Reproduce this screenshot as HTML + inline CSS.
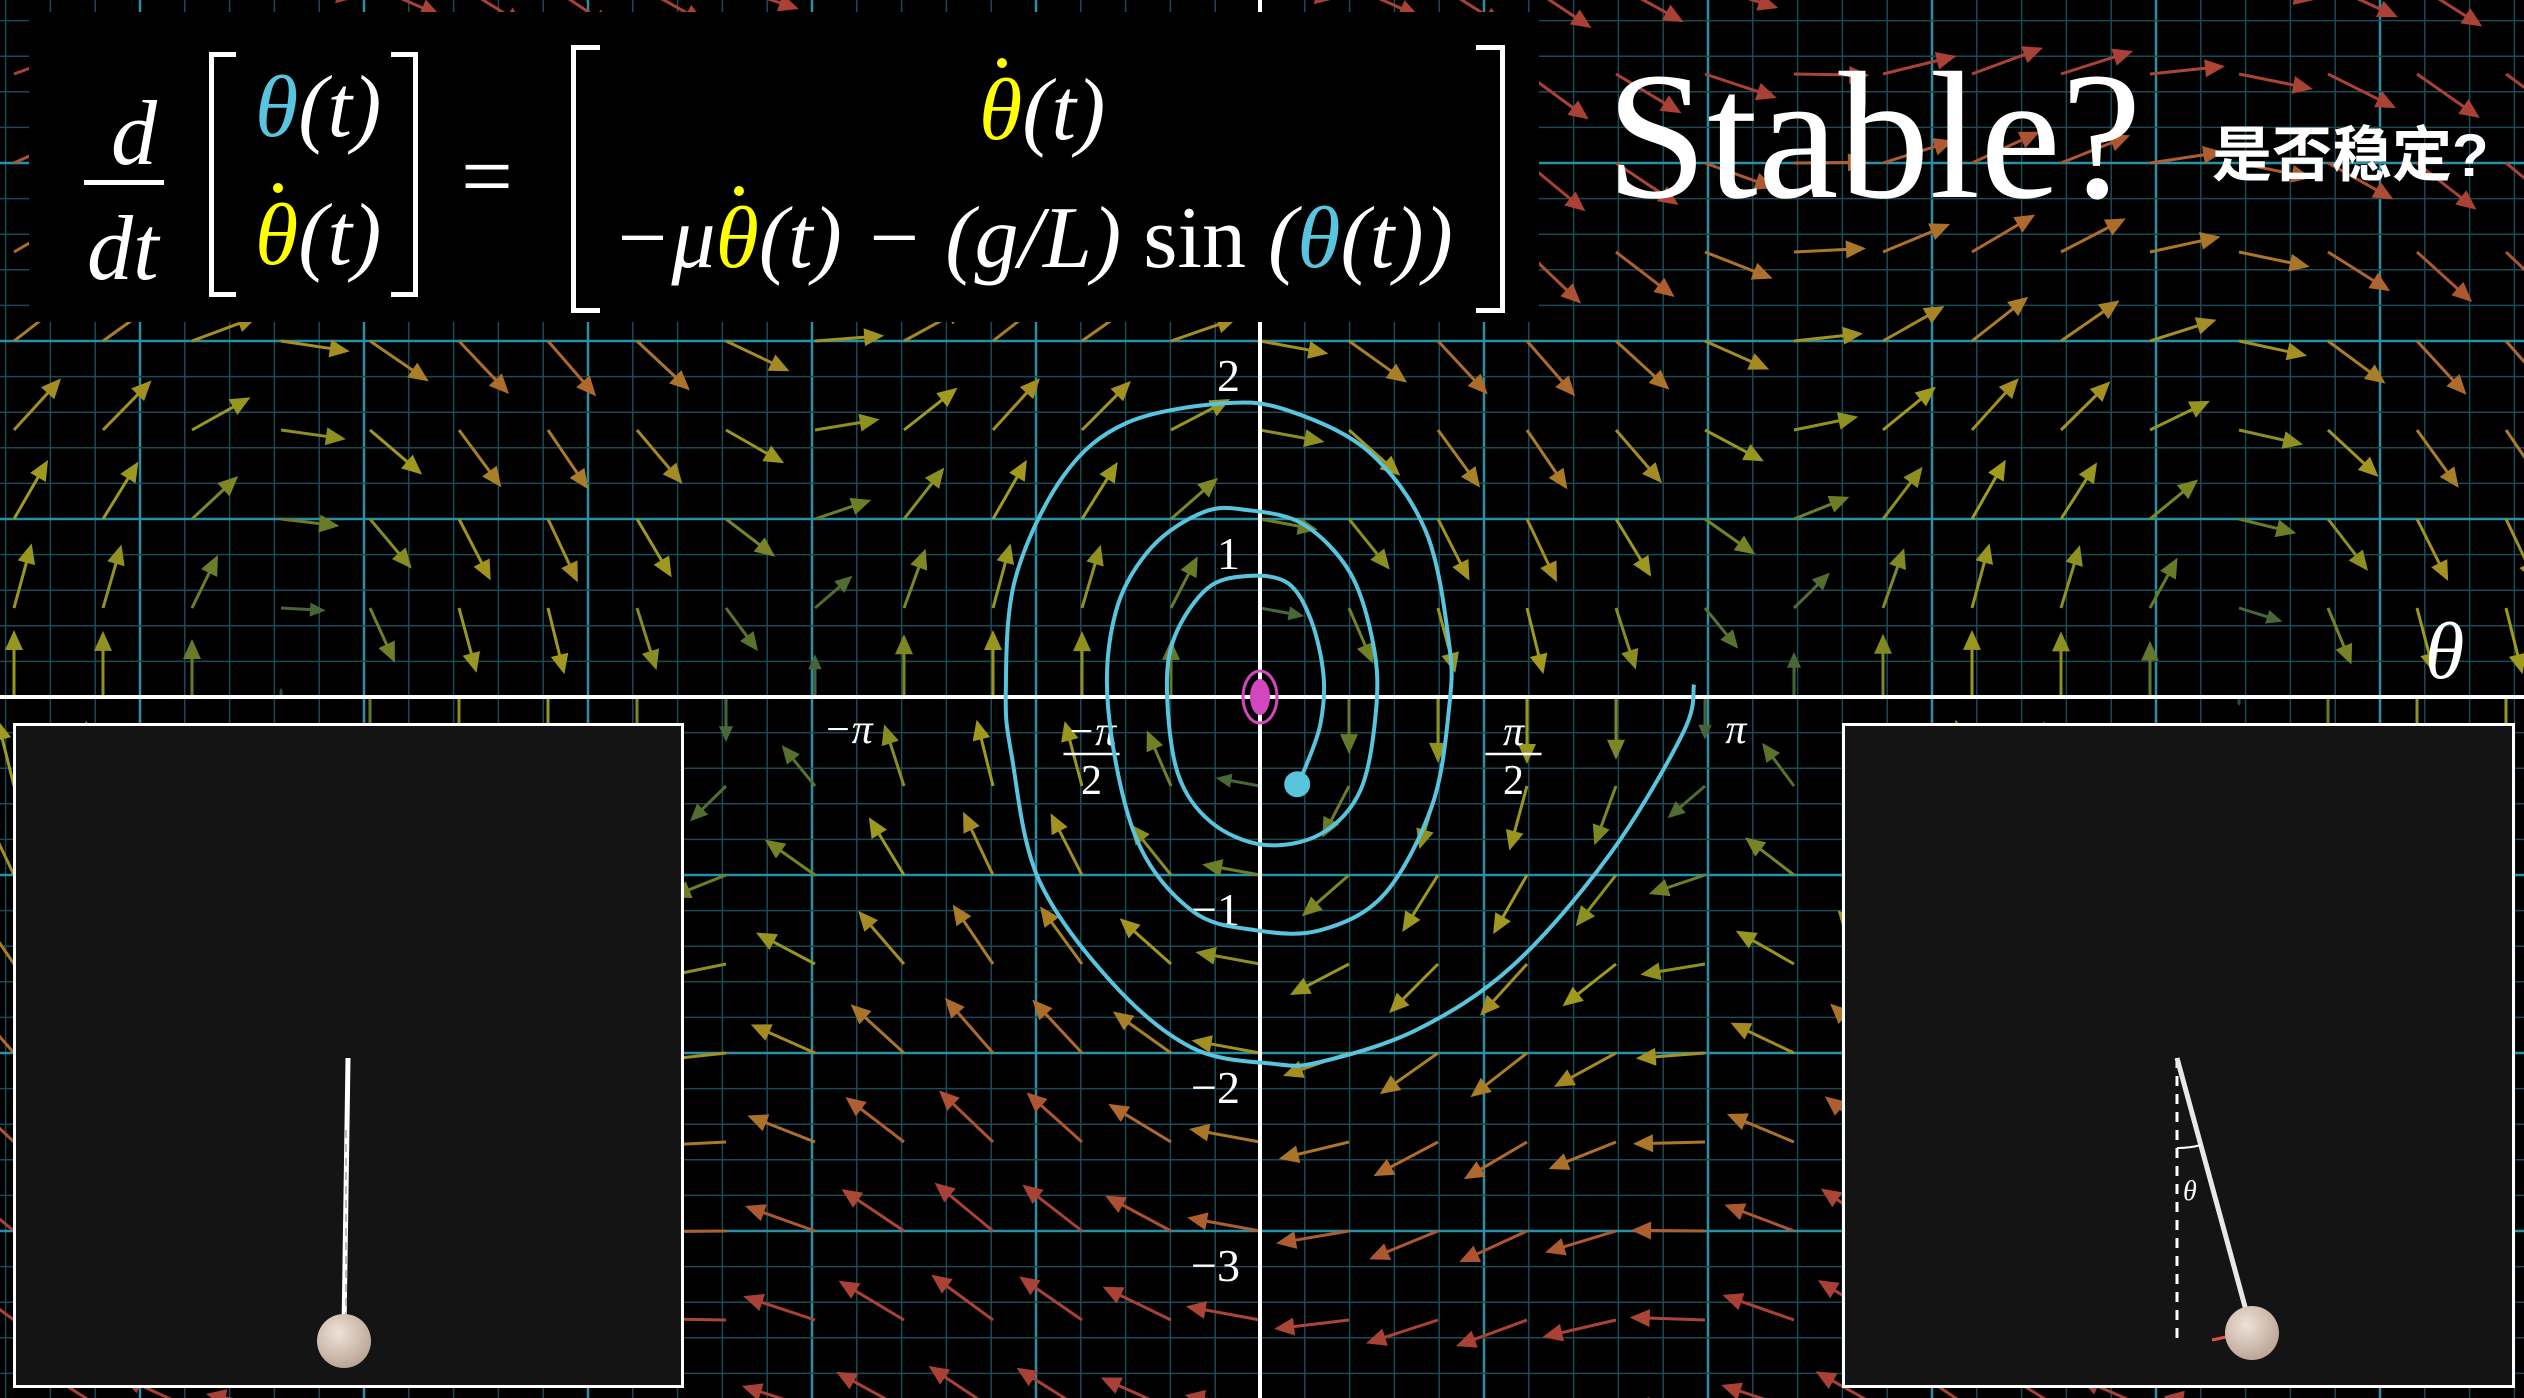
<!DOCTYPE html>
<html><head><meta charset="utf-8"><style>
html,body{margin:0;padding:0;background:#000;}
#root{position:relative;width:2524px;height:1398px;overflow:hidden;background:#000;font-family:"Liberation Serif","Noto Serif CJK SC",serif;color:#fff;}
svg{position:absolute;left:0;top:0;}
.m{position:absolute;font-family:"Liberation Serif",serif;font-style:italic;color:#fff;white-space:nowrap;line-height:1;}
.br{position:absolute;border:5px solid #fff;}
.dd{position:relative;color:#ff0;}
.dd::after{content:'';position:absolute;left:42%;top:-4px;width:10px;height:10px;border-radius:50%;background:#ff0;}
</style></head><body>
<div id="root">
<svg id="plot" width="2524" height="1398"></svg>

<div style="position:absolute;left:29px;top:12px;width:1510px;height:310px;background:#000;">
  <div class="m" style="left:82px;top:75px;font-size:92px;">d</div>
  <div style="position:absolute;left:55px;top:168px;width:80px;height:5px;background:#fff;"></div>
  <div class="m" style="left:58px;top:190px;font-size:92px;">dt</div>
  <div class="br" style="left:180px;top:40px;width:22px;height:235px;border-right:none;"></div>
  <div class="br" style="left:362px;top:40px;width:22px;height:235px;border-left:none;"></div>
  <div class="m" style="left:226px;top:52px;font-size:88px;"><span style="color:#58c4dd">θ</span>(t)</div>
  <div class="m" style="left:226px;top:180px;font-size:88px;"><span class="dd">θ</span>(t)</div>
  <div class="m" style="left:432px;top:118px;font-size:92px;font-style:normal;">=</div>
  <div class="br" style="left:542px;top:33px;width:24px;height:258px;border-right:none;"></div>
  <div class="br" style="left:1447px;top:33px;width:24px;height:258px;border-left:none;"></div>
  <div class="m" style="left:950px;top:55px;font-size:88px;"><span class="dd">θ</span>(t)</div>
  <div class="m" style="left:583px;top:183px;font-size:88px;">−μ<span class="dd">θ</span>(t) − (g/L) <span style="font-style:normal">sin</span> (<span style="color:#58c4dd">θ</span>(t))</div>
</div>

<div style="position:absolute;left:1606px;top:46px;font-size:182px;line-height:1;font-family:'Liberation Serif',serif;color:#fff;">Stable?</div>
<div style="position:absolute;left:2212px;top:126px;font-size:60px;line-height:1;font-weight:bold;font-family:'Liberation Sans','Noto Sans CJK SC',sans-serif;color:#fff;">是否稳定?</div>
<div class="m" style="left:2425px;top:612px;font-size:80px;">θ</div>

<div style="position:absolute;left:13px;top:723px;width:665px;height:659px;background:#141414;border:3px solid #fff;"></div>
<div style="position:absolute;left:1842px;top:723px;width:667px;height:659px;background:#141414;border:3px solid #fff;"></div>
<svg id="pend" width="2524" height="1398">
  <defs><radialGradient id="bob" cx="40%" cy="35%" r="70%"><stop offset="0" stop-color="#eee2d6"/><stop offset="1" stop-color="#b8a294"/></radialGradient></defs>
  <line x1="348" y1="1058" x2="344" y2="1330" stroke="#fff" stroke-width="5"/>
  <line x1="346" y1="1130" x2="346" y2="1330" stroke="#bbb" stroke-width="2" stroke-dasharray="8 6"/>
  <circle cx="344" cy="1341" r="27" fill="url(#bob)"/>
  <line x1="2177" y1="1058" x2="2177" y2="1345" stroke="#fff" stroke-width="3" stroke-dasharray="10 8"/>
  <line x1="2177" y1="1058" x2="2250" y2="1325" stroke="#e8e8e8" stroke-width="5"/>
  <path d="M2177 1148 A90 90 0 0 0 2201 1145" stroke="#fff" stroke-width="2" fill="none"/>
  <text x="2183" y="1200" fill="#fff" font-size="28" font-style="italic" font-family="Liberation Serif">θ</text>
  <line x1="2240" y1="1334" x2="2212" y2="1340" stroke="#e0504a" stroke-width="3"/>
  <circle cx="2252" cy="1333" r="27" fill="url(#bob)"/>
</svg>
</div>
<script>
// data
const mu = 0.16;
const gOverL = 1.7;
const trajTheta = [2.80,2.73,2.26,1.63,1.01,0.39,0.08,-0.44,-0.96,-1.43,-1.60,-1.64,-1.58,-1.27,-0.86,-0.23,0.18,0.70,1.07,1.22,1.22,1.11,0.80,0.39,-0.03,-0.44,-0.80,-0.98,-0.93,-0.70,-0.36,-0.08,0.28,0.58,0.73,0.75,0.65,0.39,0.02,-0.32,-0.53,-0.60,-0.55,-0.34,-0.08,0.18,0.33,0.41,0.39,0.30,0.24];
const trajOmega = [0.07,-0.20,-0.88,-1.51,-1.87,-2.05,-2.06,-1.97,-1.60,-1.02,-0.34,0.03,0.66,1.24,1.54,1.65,1.61,1.38,0.93,0.30,-0.06,-0.61,-1.11,-1.31,-1.31,-1.20,-0.79,-0.06,0.48,0.84,1.04,1.05,0.97,0.70,0.30,-0.06,-0.52,-0.77,-0.83,-0.70,-0.43,0.03,0.34,0.61,0.68,0.64,0.43,0.12,-0.15,-0.38,-0.49];
const yTicks = [2,1,-1,-2,-3];
const yTickLabels = ["2","1","−1","−2","−3"];
const xTicks = [-Math.PI,-Math.PI/2,Math.PI/2,Math.PI];
const xTickLabels = [["−π"],["−π","2"],["π","2"],["π"]];

const NS="http://www.w3.org/2000/svg";
const svg=document.getElementById('plot');
const OX=1260, OY=697, SX=155, SY=178;
const X=t=>OX+t*SX, Y=w=>OY-w*SY;
function mk(tag,attrs,parent){const e=document.createElementNS(NS,tag);for(const k in attrs)e.setAttribute(k,attrs[k]);(parent||svg).appendChild(e);return e;}

// grid
const grid=mk('g',{});


for(let k=-30;k<=30;k++){
  const x=OX+k*44.8; if(x<0||x>2524)continue;
  const major=k%5===0;
  const l=mk('line',{x1:x,y1:0,x2:x,y2:1398,stroke:major?'#2a90a8':'#1b4a56','stroke-width':major?2.5:1.5},grid);
  
  
}
for(let k=-25;k<=25;k++){
  const y=OY+k*35.6; if(y<0||y>1398)continue;
  const major=k%5===0;
  const l=mk('line',{x1:0,y1:y,x2:2524,y2:y,stroke:major?'#2a90a8':'#1b4a56','stroke-width':major?2.5:1.5},grid);
  
  
}

// vector field
function col(m){
  const stops=[[0,[35,80,75]],[0.9,[100,120,40]],[1.8,[160,155,30]],[2.8,[175,105,45]],[3.6,[170,65,55]]];
  if(m>=stops[4][0])return 'rgb('+stops[4][1]+')';
  for(let i=0;i<4;i++){const a=stops[i],b=stops[i+1];if(m<=b[0]){const f=(m-a[0])/(b[0]-a[0]);return 'rgb('+a[1].map((v,j)=>Math.round(v+(b[1][j]-v)*f)).join(',')+')';}}
}
const field=mk('g',{});


for(let i=-15;i<=15;i++){for(let j=-9;j<=9;j++){
  const th=i*89/SX, om=j*89/SY;
  const x0=X(th), y0=Y(om);
  if(x0<-20||x0>2560||y0<-20||y0>1420)continue;
  const dth=om, dom=-mu*om-gOverL*Math.sin(th);
  const mag=Math.hypot(dth,dom); if(mag<1e-3)continue;
  const len=85*mag/(mag+0.45);
  const ux=dth*SX, uy=-dom*SY, n=Math.hypot(ux,uy);
  const dx=ux/n*len, dy=uy/n*len;
  const c=col(mag);
  const x1=x0+dx,y1=y0+dy, hx=ux/n, hy=uy/n, h=Math.min(20,len*0.35);
  const a=mk('g',{},field);
  
  
  mk('line',{x1:x0,y1:y0,x2:x1-hx*h*0.7,y2:y1-hy*h*0.7,stroke:c,'stroke-width':3},a);
  const bx=x1-hx*h, by=y1-hy*h;
  mk('polygon',{points:`${x1},${y1} ${bx-hy*h*0.45},${by+hx*h*0.45} ${bx+hy*h*0.45},${by-hx*h*0.45}`,fill:c},a);
}}

// axes
const xa=mk('line',{x1:0,y1:OY,x2:2524,y2:OY,stroke:'#fff','stroke-width':4});

const ya=mk('line',{x1:OX,y1:0,x2:OX,y2:1398,stroke:'#fff','stroke-width':4});

yTicks.forEach((v,i)=>{
  const t=mk('text',{x:OX-20,y:Y(v)+50,fill:'#fff','font-size':46,'text-anchor':'end','font-family':'Liberation Serif'});
  t.textContent=yTickLabels[i];
  
});
xTicks.forEach((v,i)=>{
  const lab=xTickLabels[i];const x=X(v)+(v<0?75:(lab.length>1?10:-11));
  const g=mk('g',{});
  
  const t=mk('text',{x:x,y:lab.length>1?OY+48:OY+46,fill:'#fff','font-size':42,'text-anchor':'middle','font-family':'Liberation Serif','font-style':'italic'},g);
  t.textContent=lab[0];
  if(lab.length>1){
    mk('line',{x1:x-28,y1:OY+57,x2:x+28,y2:OY+57,stroke:'#fff','stroke-width':2.5},g);
    const d=mk('text',{x:x,y:OY+97,fill:'#fff','font-size':42,'text-anchor':'middle','font-family':'Liberation Serif'},g);
    d.textContent=lab[1];
  }
});

// trajectory (Catmull-Rom)
const pts=trajTheta.map((t,i)=>[X(t),Y(trajOmega[i])]);
let d=`M${pts[0][0]},${pts[0][1]}`;
for(let i=0;i<pts.length-1;i++){
  const p0=pts[i-1]||pts[i],p1=pts[i],p2=pts[i+1],p3=pts[i+2]||p2;
  d+=` C${p1[0]+(p2[0]-p0[0])/6},${p1[1]+(p2[1]-p0[1])/6} ${p2[0]-(p3[0]-p1[0])/6},${p2[1]-(p3[1]-p1[1])/6} ${p2[0]},${p2[1]}`;
}
const tr=mk('path',{d:d,fill:'none',stroke:'#58c4dd','stroke-width':4});

const last=pts[pts.length-1];
const sd=mk('circle',{cx:last[0],cy:last[1],r:13,fill:'#58c4dd'});


// fixed point
const fp=mk('g',{});

mk('ellipse',{cx:OX,cy:OY,rx:10,ry:18,fill:'#d147bd'},fp);
mk('ellipse',{cx:OX,cy:OY,rx:17,ry:26,fill:'none',stroke:'#d147bd','stroke-width':3},fp);
</script>
</body></html>
